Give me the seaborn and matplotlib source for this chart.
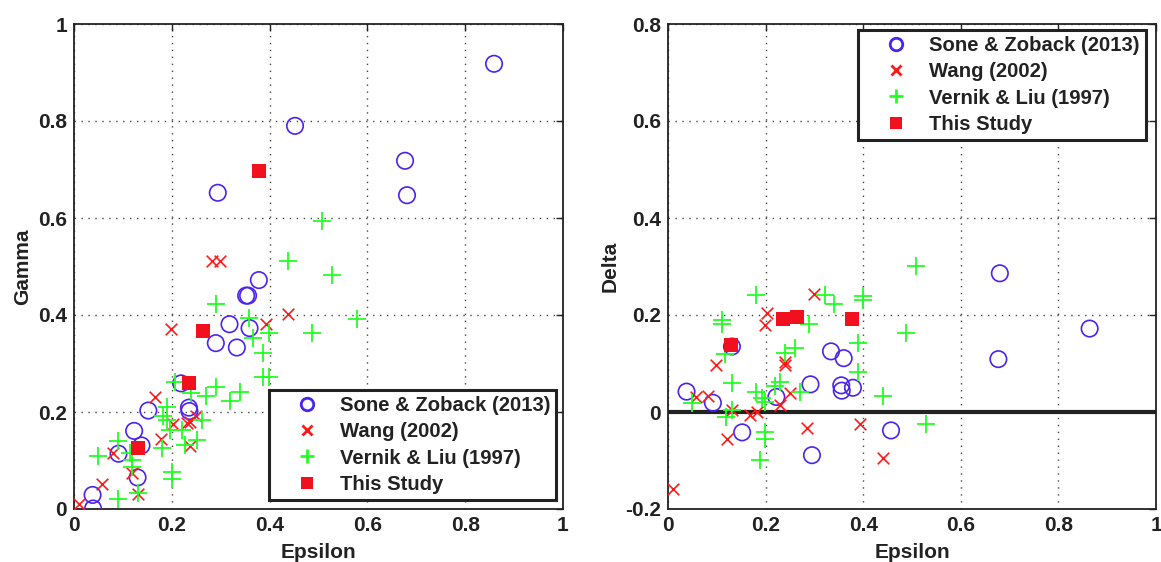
import matplotlib
matplotlib.use("Agg")
import matplotlib.pyplot as plt
import seaborn as sns
import numpy as np
import pandas as pd
from matplotlib.lines import Line2D

sns.set_style("white")
plt.rcParams['font.family'] = ['Liberation Sans', 'DejaVu Sans']
plt.rcParams['font.weight'] = 'bold'

# ---- Data: Gamma vs Epsilon (left) ----
sz_eps_g = [0.038, 0.039, 0.091, 0.123, 0.130, 0.138, 0.152, 0.219, 0.235, 0.236, 0.290,
            0.294, 0.318, 0.333, 0.352, 0.356, 0.359, 0.378, 0.452, 0.677, 0.681, 0.859]
sz_gamma = [0.029, 0.001, 0.114, 0.161, 0.065, 0.131, 0.203, 0.259, 0.209, 0.202, 0.342,
            0.652, 0.381, 0.333, 0.440, 0.440, 0.373, 0.472, 0.790, 0.718, 0.647, 0.918]

wang_eps_g = [0.011, 0.057, 0.080, 0.118, 0.130, 0.166, 0.178, 0.198, 0.202, 0.232, 0.237,
              0.249, 0.237, 0.282, 0.299, 0.393, 0.438]
wang_gamma = [0.010, 0.051, 0.116, 0.074, 0.030, 0.230, 0.145, 0.372, 0.175, 0.178, 0.180,
              0.192, 0.130, 0.512, 0.512, 0.381, 0.402]

vl_eps_g = [0.050, 0.091, 0.091, 0.115, 0.118, 0.118, 0.130, 0.179, 0.183, 0.190, 0.190,
            0.196, 0.200, 0.200, 0.207, 0.220, 0.227, 0.239, 0.251, 0.261, 0.269, 0.290,
            0.290, 0.319, 0.339, 0.358, 0.367, 0.387, 0.387, 0.399, 0.399, 0.438, 0.487,
            0.508, 0.528, 0.578]
vl_gamma = [0.110, 0.141, 0.020, 0.116, 0.101, 0.087, 0.034, 0.125, 0.192, 0.210, 0.184,
            0.163, 0.077, 0.062, 0.262, 0.163, 0.132, 0.240, 0.142, 0.184, 0.232, 0.252,
            0.423, 0.223, 0.242, 0.393, 0.352, 0.321, 0.273, 0.273, 0.362, 0.512, 0.362,
            0.594, 0.482, 0.392]

ts_eps = [0.130, 0.236, 0.264, 0.378]
ts_gamma = [0.125, 0.260, 0.367, 0.697]

# ---- Data: Delta vs Epsilon (right) ----
sz_eps_d = [0.038, 0.092, 0.131, 0.152, 0.222, 0.292, 0.295, 0.334, 0.355, 0.356, 0.360,
            0.379, 0.457, 0.677, 0.680, 0.864]
sz_delta = [0.042, 0.019, 0.135, -0.042, 0.031, 0.057, -0.089, 0.125, 0.055, 0.044, 0.111,
            0.050, -0.038, 0.109, 0.286, 0.172]

wang_eps_d = [0.011, 0.057, 0.081, 0.098, 0.121, 0.131, 0.168, 0.183, 0.198, 0.202, 0.230,
              0.239, 0.240, 0.250, 0.284, 0.299, 0.394, 0.440]
wang_delta = [-0.158, 0.031, 0.033, 0.097, -0.055, 0.005, -0.006, 0.001, 0.180, 0.204, 0.014,
              0.103, 0.097, 0.040, -0.034, 0.244, -0.025, -0.094]

vl_eps_d = [0.050, 0.110, 0.110, 0.117, 0.119, 0.131, 0.131, 0.180, 0.180, 0.189, 0.192,
            0.199, 0.199, 0.199, 0.219, 0.230, 0.240, 0.260, 0.271, 0.289, 0.321, 0.341,
            0.389, 0.389, 0.399, 0.399, 0.440, 0.488, 0.509, 0.528]
vl_delta = [0.019, 0.189, 0.182, 0.119, -0.010, 0.060, 0.004, 0.242, 0.042, -0.099, 0.028,
            0.021, -0.042, -0.056, 0.053, 0.062, 0.122, 0.132, 0.042, 0.182, 0.242, 0.223,
            0.142, 0.083, 0.240, 0.230, 0.033, 0.162, 0.302, -0.025]

ts_delta = [0.138, 0.192, 0.196, 0.191]

labels = ["Sone & Zoback (2013)", "Wang (2002)", "Vernik & Liu (1997)", "This Study"]
x_ticks = [0, 0.2, 0.4, 0.6, 0.8, 1]
x_ticklabels = ["0", "0.2", "0.4", "0.6", "0.8", "1"]
g_ticks = [0, 0.2, 0.4, 0.6, 0.8, 1]
g_ticklabels = ["0", "0.2", "0.4", "0.6", "0.8", "1"]
d_ticks = [-0.2, 0, 0.2, 0.4, 0.6, 0.8]
d_ticklabels = ["-0.2", "0", "0.2", "0.4", "0.6", "0.8"]

C_BLUE = "#4B23F0"
C_RED = "#FF1A1A"
C_GREEN = "#22FF22"
C_SQ = "#F0101E"

FS = 15
LFS = 14.6

fig = plt.figure(figsize=(11.61, 5.62), dpi=100)
axL = fig.add_axes([74/1161, 53/562, 489/1161, 485/562])
axR = fig.add_axes([668/1161, 53/562, 488/1161, 485/562])


def draw(ax, sz, wg, vl, ts):
    # open circles
    sns.scatterplot(x=sz[0], y=sz[1], ax=ax, marker='o', s=140, color=C_BLUE, zorder=3)
    coll = ax.collections[-1]
    coll.set_facecolor('none')
    coll.set_edgecolor(C_BLUE)
    coll.set_linewidth(1.2)
    sns.scatterplot(x=wg[0], y=wg[1], ax=ax, marker='x', s=70, color=C_RED,
                    linewidth=1.2, zorder=3)
    sns.scatterplot(x=vl[0], y=vl[1], ax=ax, marker='+', s=170, color=C_GREEN,
                    linewidth=1.3, zorder=3)
    sns.scatterplot(x=ts[0], y=ts[1], ax=ax, marker='s', s=110, color=C_SQ,
                    linewidth=0, zorder=4)


draw(axL, (sz_eps_g, sz_gamma), (wang_eps_g, wang_gamma), (vl_eps_g, vl_gamma), (ts_eps, ts_gamma))
draw(axR, (sz_eps_d, sz_delta), (wang_eps_d, wang_delta), (vl_eps_d, vl_delta), (ts_eps, ts_delta))

axR.axhline(0, color='#222222', lw=3, zorder=2)

for ax, yt, ytl, yl, ylab in [(axL, g_ticks, g_ticklabels, (0, 1), "Gamma"),
                              (axR, d_ticks, d_ticklabels, (-0.2, 0.8), "Delta")]:
    ax.set_xlim(0, 1)
    ax.set_ylim(*yl)
    ax.set_xticks(x_ticks)
    ax.set_xticklabels(x_ticklabels)
    ax.set_yticks(yt)
    ax.set_yticklabels(ytl)
    ax.grid(True, linestyle=(0, (1, 4)), color='#444444', lw=1.0)
    ax.tick_params(direction='in', length=5, width=1, top=True, right=True,
                   labelsize=FS, colors='#222222', pad=5)
    for lab in ax.get_xticklabels() + ax.get_yticklabels():
        lab.set_fontweight('bold')
    for sp in ax.spines.values():
        sp.set_visible(True)
        sp.set_color('#222222')
        sp.set_linewidth(1.3)
    ax.set_xlabel("Epsilon", fontsize=FS, fontweight='bold', color='#222222', labelpad=6)
    ax.set_ylabel(ylab, fontsize=FS, fontweight='bold', color='#222222', labelpad=4)

handles = [
    Line2D([], [], marker='o', ls='none', markersize=9, markerfacecolor='none',
           markeredgecolor=C_BLUE, markeredgewidth=2),
    Line2D([], [], marker='x', ls='none', markersize=7, color=C_RED, markeredgewidth=2),
    Line2D([], [], marker='+', ls='none', markersize=10, color=C_GREEN, markeredgewidth=2),
    Line2D([], [], marker='s', ls='none', markersize=9, color=C_SQ, markeredgewidth=0),
]

for ax, loc, anchor in [(axL, 'lower right', (0.986, 0.0186)),
                        (axR, 'upper right', (0.9795, 0.988))]:
    leg = ax.legend(handles, labels, loc=loc, bbox_to_anchor=anchor,
                    prop={'size': LFS, 'weight': 'bold'}, frameon=True, fancybox=False,
                    framealpha=1, edgecolor='#222222', handlelength=3.15,
                    handletextpad=0.05, labelspacing=0.36, borderpad=0.3,
                    borderaxespad=0)
    leg.get_frame().set_linewidth(2.2)
    for t in leg.get_texts():
        t.set_color('#222222')

fig.savefig("out.png", dpi=100)
